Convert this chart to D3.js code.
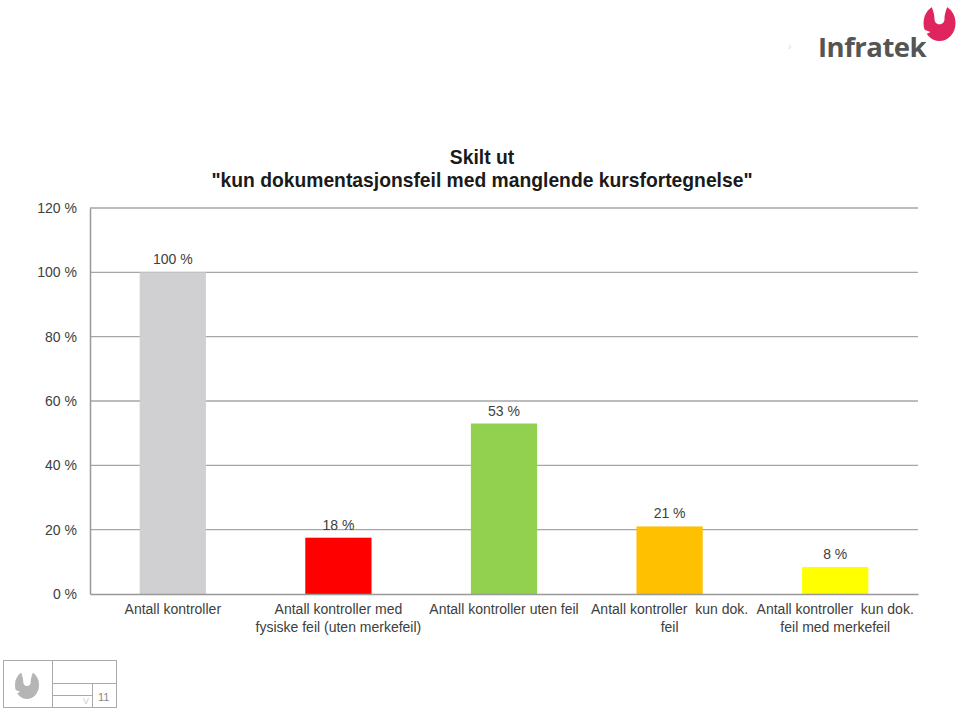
<!DOCTYPE html>
<html><head><meta charset="utf-8">
<script src="https://cdn.jsdelivr.net/npm/d3@7"></script>
<style>body{margin:0;background:#fff}svg{display:block;font-family:"Liberation Sans",Arial,sans-serif}</style>
</head><body>
<svg id="c" width="960" height="712"></svg>
<script>
const categories = [
  ["Antall kontroller"],
  ["Antall kontroller med", "fysiske feil (uten merkefeil)"],
  ["Antall kontroller uten feil"],
  ["Antall kontroller  kun dok.", "feil"],
  ["Antall kontroller  kun dok.", "feil med merkefeil"]
];
const values = [100, 17.5, 53, 21, 8.4];
const valueLabels = ["100 %", "18 %", "53 %", "21 %", "8 %"];
const colors = ["#D0D0D2", "#FF0000", "#92D050", "#FFC000", "#FFFF00"];
const yTicks = [0, 20, 40, 60, 80, 100, 120];
const titleLines = ["Skilt ut", "\"kun dokumentasjonsfeil med manglende kursfortegnelse\""];

const svg = d3.select("#c");
const m = {left: 90, right: 918, top: 208, bottom: 594};
const x = d3.scaleBand().domain(d3.range(categories.length)).range([m.left, m.right]).paddingInner(0.6).paddingOuter(0.3);
const y = d3.scaleLinear().domain([0, 120]).range([m.bottom, m.top]);

// gridlines
svg.append("g").selectAll("line").data(yTicks.filter(d => d > 0)).join("line")
  .attr("x1", m.left).attr("x2", m.right).attr("y1", d => y(d)).attr("y2", d => y(d))
  .attr("stroke", "#A6A6A6").attr("stroke-width", 1.3);

// y axis
const ya = svg.append("g").attr("transform", `translate(${m.left},0)`)
  .call(d3.axisLeft(y).tickValues(yTicks).tickFormat(d => d + " %").tickSize(0).tickPadding(13));
ya.select(".domain").attr("stroke", "#999").attr("stroke-width", 1.5);
ya.selectAll("text").attr("font-size", 14).attr("fill", "#404040").attr("font-family", "Liberation Sans, Arial, sans-serif");

// bars
svg.append("g").selectAll("rect").data(values).join("rect")
  .attr("x", (d, i) => x(i)).attr("width", x.bandwidth())
  .attr("y", d => y(d)).attr("height", d => y(0) - y(d))
  .attr("fill", (d, i) => colors[i]);

// x axis
const xa = svg.append("g").attr("transform", `translate(0,${m.bottom})`)
  .call(d3.axisBottom(x).tickSize(0).tickFormat(""));
xa.select(".domain").attr("stroke", "#999").attr("stroke-width", 1.5);
xa.selectAll(".tick").each(function(d) {
  const t = d3.select(this).append("text").attr("fill", "#404040").attr("font-size", 14).attr("text-anchor", "middle");
  categories[d].forEach((line, k) => {
    t.append("tspan").attr("x", 0).attr("y", 20 + k * 18).text(line).style("white-space", "pre");
  });
});
xa.selectAll("text").attr("xml:space", "preserve");

// value labels
svg.append("g").selectAll("text").data(values).join("text")
  .attr("x", (d, i) => x(i) + x.bandwidth() / 2).attr("y", d => y(d) - 8)
  .attr("text-anchor", "middle").attr("font-size", 14).attr("fill", "#404040")
  .text((d, i) => valueLabels[i]);

// title
svg.append("text").attr("x", 482).attr("y", 164).attr("text-anchor", "middle")
  .attr("font-size", 19.3).attr("font-weight", "bold").attr("fill", "#1a1a1a")
  .selectAll("tspan").data(titleLines).join("tspan")
  .attr("x", 482).attr("dy", (d, i) => i ? 23 : 0).text(d => d);

// Infratek logo (decoration)
function logo(g, cx, cy, rx, ry, fill) {
  g.append("ellipse").attr("cx", cx).attr("cy", cy).attr("rx", rx).attr("ry", ry).attr("fill", fill);
  const s = rx / 16;
  g.append("path").attr("d", `M${cx - 9 * s},${cy - ry - 1} C${cx - 6 * s},${cy - 12 * s} ${cx - 5 * s},${cy - 8 * s} ${cx - 5 * s},${cy - 4 * s} C${cx - 5 * s},${cy + 3 * s} ${cx + 5 * s},${cy + 3 * s} ${cx + 5 * s},${cy - 4 * s} C${cx + 5 * s},${cy - 8 * s} ${cx + 6 * s},${cy - 12 * s} ${cx + 9 * s},${cy - ry - 1} Z`).attr("fill", "#fff");
  g.append("path").attr("d", `M${cx - rx - 1},${cy + 6 * s} L${cx - 9 * s},${cy + 9 * s} L${cx - rx - 1},${cy + 13 * s} Z`).attr("fill", "#fff");
}
svg.append("text").attr("x", 818).attr("y", 57).attr("font-size", 27.5).attr("font-weight", "bold")
  .attr("fill", "#555").attr("font-family", "Open Sans, Liberation Sans, sans-serif").attr("letter-spacing", -0.5).text("Infratek");
logo(svg.append("g"), 939.5, 23, 16, 18, "#E0245E");
svg.append("text").attr("x", 788).attr("y", 50).attr("font-size", 10).attr("fill", "#ddd").text("›");

// bottom-left footer box (decoration)
const fb = svg.append("g").attr("stroke", "#aaa").attr("fill", "none").attr("stroke-width", 1);
fb.append("rect").attr("x", 3.5).attr("y", 660.5).attr("width", 113).attr("height", 47);
fb.append("line").attr("x1", 52.5).attr("x2", 52.5).attr("y1", 660).attr("y2", 708);
fb.append("line").attr("x1", 52).attr("x2", 117).attr("y1", 683.5).attr("y2", 683.5);
fb.append("line").attr("x1", 52).attr("x2", 92).attr("y1", 695.5).attr("y2", 695.5);
fb.append("line").attr("x1", 92.5).attr("x2", 92.5).attr("y1", 683).attr("y2", 708);
logo(svg.append("g"), 27, 685, 12, 14, "#b5b5b5");
svg.append("text").attr("x", 98).attr("y", 701).attr("font-size", 11).attr("fill", "#888").text("11");
svg.append("text").attr("x", 83).attr("y", 704).attr("font-size", 9).attr("fill", "#ccc").text("V");
</script>
</body></html>
